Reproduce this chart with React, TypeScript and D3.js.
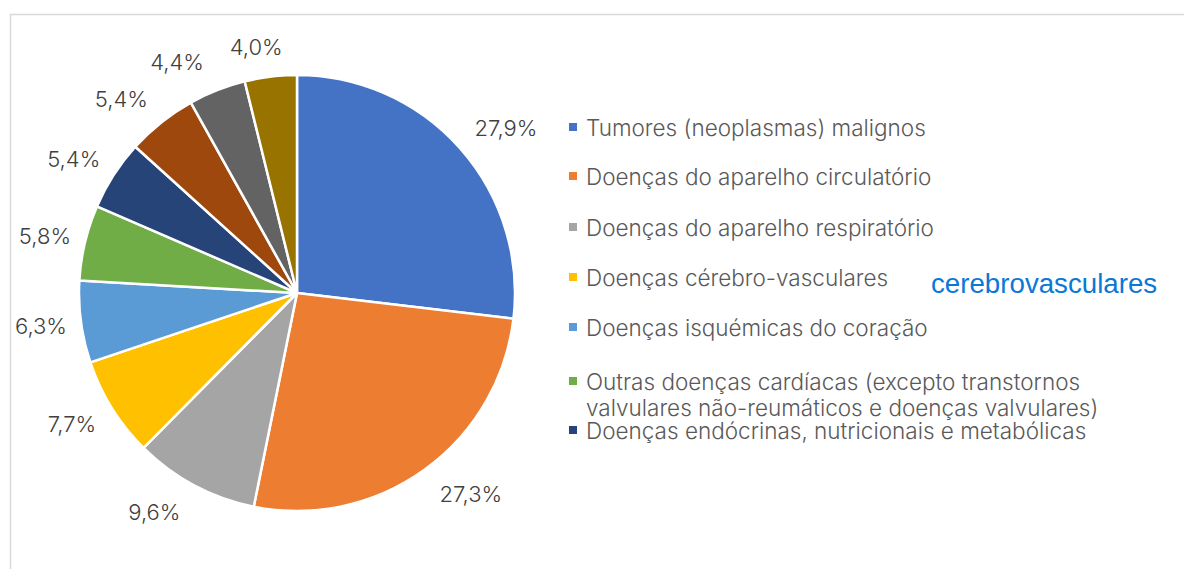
import React from "react";
import * as d3 from "d3";

const categories = [
  "Tumores (neoplasmas) malignos",
  "Doenças do aparelho circulatório",
  "Doenças do aparelho respiratório",
  "Doenças cérebro-vasculares",
  "Doenças isquémicas do coração",
  "Outras doenças cardíacas (excepto transtornos|valvulares não-reumáticos e doenças valvulares)",
  "Doenças endócrinas, nutricionais e metabólicas",
  "Categoria 8",
  "Categoria 9",
  "Categoria 10",
];
const values = [27.9, 27.3, 9.6, 7.7, 6.3, 5.8, 5.4, 5.4, 4.4, 4.0];
const labels = ["27,9%", "27,3%", "9,6%", "7,7%", "6,3%", "5,8%", "5,4%", "5,4%", "4,4%", "4,0%"];
const colors = ["#4472C4", "#ED7D31", "#A5A5A5", "#FFC000", "#5B9BD5", "#70AD47", "#264478", "#9E480E", "#636363", "#997300"];
const legendCount = 7;

const W = 1184;
const H = 569;
const cx = 297;
const cy = 293;
const R = 218;
const FONT = "Inter, 'Open Sans', sans-serif";

export default function App() {
  const pie = d3.pie<number>().sort(null).value((d) => d)(values);
  const arc = d3.arc<d3.PieArcDatum<number>>().innerRadius(0).outerRadius(R);

  const legendY = [127, 176, 227, 277, 327, 381, 430];

  return (
    <svg width={W} height={H} style={{ position: "absolute", left: 0, top: 0, display: "block" }}>
      <rect x={0} y={0} width={W} height={H} fill="#fff" />
      <rect x={10.5} y={14.5} width={W + 20} height={H + 20} fill="none" stroke="#d9d9d9" strokeWidth={1.5} />
      <g transform={`translate(${cx},${cy})`}>
        {pie.map((p, i) => (
          <path key={i} d={arc(p) || ""} fill={colors[i]} stroke="#fff" strokeWidth={2.5} strokeLinejoin="round" />
        ))}
        {pie.map((p, i) => {
          const a = (p.startAngle + p.endAngle) / 2;
          const ux = Math.sin(a);
          const uy = -Math.cos(a);
          const off = 16 + labels[i].length * 6;
          const x = R * ux + off * Math.sign(ux) * Math.min(1, Math.abs(ux) * 3);
          const y = R * uy + 30 * uy;
          return (
            <text key={i} x={x} y={y} textAnchor="middle" dominantBaseline="central" fontFamily={FONT} fontWeight={300} fontSize={22} fill="#404040">
              {labels[i]}
            </text>
          );
        })}
      </g>
      {categories.slice(0, legendCount).map((c, i) => {
        const lines = c.split("|");
        return (
          <g key={i}>
            <rect x={569} y={legendY[i] - 4} width={8} height={8} fill={colors[i]} />
            {lines.map((l, j) => (
              <text key={j} x={586} y={legendY[i] + j * 26} dominantBaseline="central" fontFamily={FONT} fontWeight={300} fontSize={22.5} fill="#595959">
                {l}
              </text>
            ))}
          </g>
        );
      })}
      <text x={931} y={283} dominantBaseline="central" fontFamily="'Liberation Sans', Arial, sans-serif" fontSize={27.7} fill="#0A78D7">
        cerebrovasculares
      </text>
    </svg>
  );
}
